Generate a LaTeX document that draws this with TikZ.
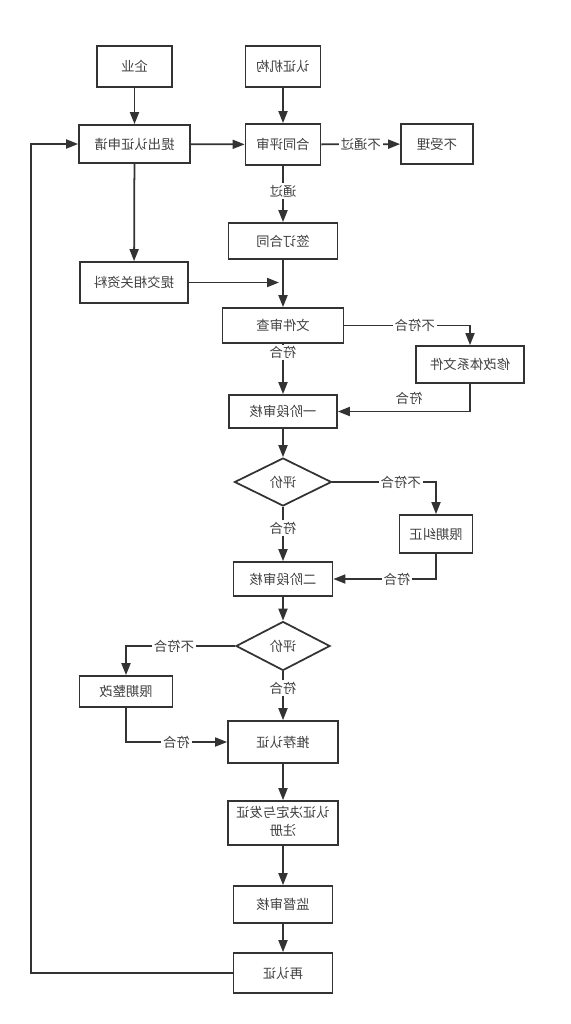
\documentclass[tikz,border=0pt]{standalone}
\usepackage{fontspec}
\usepackage{graphicx}
\usetikzlibrary{shapes.geometric,arrows.meta,positioning}
\newfontfamily\cjk{Noto Sans CJK SC}
\newcommand{\mirtxt}[1]{\reflectbox{#1}}

\begin{document}
\begin{tikzpicture}[x=0.02cm, y=-0.02cm,
        box/.style={rectangle, draw=black!80, line width=1pt, text=black!75, font=\cjk\fontsize{7.6}{10}\selectfont, align=center, inner sep=1pt},
        judge/.style={diamond, aspect=2, draw=black!80, line width=1pt, text=black!75, font=\cjk\fontsize{7.6}{10}\selectfont, inner sep=0pt},
        flow/.style={->, >={Triangle[length=2.4mm, width=1.8mm]}, line width=1pt, draw=black!80},
        lbl/.style={fill=white, inner sep=1pt, text=black!75, font=\cjk\fontsize{7.6}{10}\selectfont},
    ]
        \useasboundingbox (0,0) rectangle (571,1024);

        % Top: applicant and certification body
        \node[box, minimum width=1.5cm, minimum height=0.82cm] (qiye) at (134.5, 66.5) {\mirtxt{企业}};
        \node[box, minimum width=1.5cm, minimum height=0.82cm] (jigou) at (283, 66.5) {\mirtxt{认证机构}};
        \node[box, minimum width=2.22cm, minimum height=0.76cm] (shenqing) at (134.5, 144) {\mirtxt{提出认证申请}};
        \node[box, minimum width=1.5cm, minimum height=0.82cm] (pingshen) at (283, 144.5) {\mirtxt{合同评审}};
        \node[box, minimum width=1.44cm, minimum height=0.8cm] (bushouli) at (437, 144) {\mirtxt{不受理}};
        \draw[flow] (qiye) -- (shenqing);
        \draw[flow] (jigou) -- (pingshen);
        \draw[flow] (shenqing) -- (pingshen);
        \draw[flow] (pingshen) -- node[lbl, midway] {\mirtxt{不通过}} (bushouli);

        % Contract and documents
        \node[box, minimum width=2.18cm, minimum height=0.72cm] (qianding) at (283, 241) {\mirtxt{签订合同}};
        \node[box, minimum width=2.16cm, minimum height=0.82cm] (ziliao) at (134, 282.5) {\mirtxt{提交相关资料}};
        \node[box, minimum width=2.42cm, minimum height=0.7cm] (wenjian) at (283, 325.5) {\mirtxt{文件审查}};
        \node[box, minimum width=2.16cm, minimum height=0.74cm] (xiugai) at (470, 364.5) {\mirtxt{修改体系文件}};
        \coordinate (hit) at (279, 282.5);
        \draw[flow] (pingshen) -- node[lbl, pos=0.45] {\mirtxt{通过}} (qianding);
        \draw[flow] (shenqing) -- (ziliao);
        \draw[flow] (ziliao) -- (hit);
        \draw[flow] (qianding) -- (wenjian);
        \draw[flow] (wenjian.east) -| node[lbl, pos=0.28] {\mirtxt{不符合}} (xiugai.north);

        % Stage one
        \node[box, minimum width=2.16cm, minimum height=0.66cm] (yijieduan) at (283, 411.5) {\mirtxt{一阶段审核}};
        \node[judge, minimum width=1.94cm, minimum height=0.96cm] (pj1) at (283, 482) {\mirtxt{评价}};
        \node[box, minimum width=1.46cm, minimum height=0.76cm] (jiuzheng) at (436, 534) {\mirtxt{限期纠正}};
        \draw[flow] (wenjian) -- node[lbl, pos=0.17] {\mirtxt{符合}} (yijieduan);
        \draw[flow] (xiugai.south) |- node[above, pos=0.73, text=black!75, font=\cjk\fontsize{7.6}{10}\selectfont] {\mirtxt{符合}} (yijieduan.east);
        \draw[flow] (yijieduan) -- (pj1);
        \draw[flow] (pj1.east) -| node[lbl, pos=0.33] {\mirtxt{不符合}} (jiuzheng.north);

        % Stage two
        \node[box, minimum width=1.98cm, minimum height=0.68cm] (erjieduan) at (283, 579) {\mirtxt{二阶段审核}};
        \node[judge, minimum width=1.88cm, minimum height=0.98cm] (pj2) at (283, 646) {\mirtxt{评价}};
        \node[box, minimum width=1.86cm, minimum height=0.62cm] (zhenggai) at (126, 691.5) {\mirtxt{限期整改}};
        \draw[flow] (pj1) -- node[lbl, pos=0.39] {\mirtxt{符合}} (erjieduan);
        \draw[flow] (jiuzheng.south) |- node[lbl, pos=0.69] {\mirtxt{符合}} (erjieduan.east);
        \draw[flow] (erjieduan) -- (pj2);
        \draw[flow] (pj2.west) -| node[lbl, pos=0.28] {\mirtxt{不符合}} (zhenggai.north);

        % Certification and surveillance
        \node[box, minimum width=2.2cm, minimum height=0.84cm] (tuijian) at (283, 742) {\mirtxt{推荐认证}};
        \node[box, minimum width=2.2cm, minimum height=0.88cm] (jueding) at (283, 823) {\mirtxt{\begin{tabular}{@{}c@{}}认证决定与发证\\注册\end{tabular}}};
        \node[box, minimum width=1.98cm, minimum height=0.74cm] (jiandu) at (283, 904.5) {\mirtxt{监督审核}};
        \node[box, minimum width=1.98cm, minimum height=0.8cm] (zairenzheng) at (283, 973) {\mirtxt{再认证}};
        \draw[flow] (pj2) -- node[lbl, pos=0.34] {\mirtxt{符合}} (tuijian);
        \draw[flow] (zhenggai.south) |- node[lbl, pos=0.75] {\mirtxt{符合}} (tuijian.west);
        \draw[flow] (tuijian) -- (jueding);
        \draw[flow] (jueding) -- (jiandu);
        \draw[flow] (jiandu) -- (zairenzheng);
        \draw[flow] (zairenzheng.west) -- ++(-202, 0) |- (shenqing.west);
    \end{tikzpicture}
\end{document}
